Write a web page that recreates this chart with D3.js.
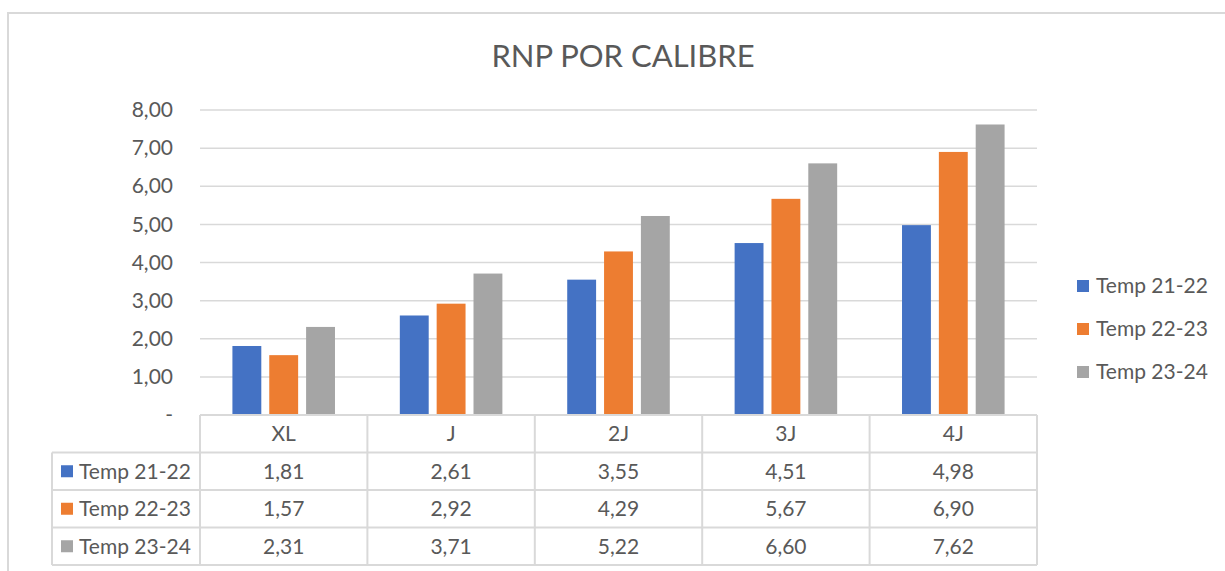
<!DOCTYPE html>
<html>
<head>
<meta charset="utf-8">
<script src="https://cdn.jsdelivr.net/npm/d3@7"></script>
<style>
  html, body { margin: 0; padding: 0; background: #fff; }
  svg { display: block; font-family: Lato, "Open Sans", sans-serif; }
</style>
</head>
<body>
<svg id="chart" width="1225" height="571"></svg>
<script>
const title = "RNP POR CALIBRE";
const categories = ["XL", "J", "2J", "3J", "4J"];
const seriesNames = ["Temp 21-22", "Temp 22-23", "Temp 23-24"];
const temp2122 = [1.81, 2.61, 3.55, 4.51, 4.98];
const temp2223 = [1.57, 2.92, 4.29, 5.67, 6.90];
const temp2324 = [2.31, 3.71, 5.22, 6.60, 7.62];
const yTicks = [0, 1, 2, 3, 4, 5, 6, 7, 8];
const colors = ["#4472C4", "#ED7D31", "#A5A5A5"];

const seriesValues = [temp2122, temp2223, temp2324];
const series = seriesNames.map((name, i) => ({ name, values: seriesValues[i], color: colors[i] }));

const svg = d3.select("#chart");
const textColor = "#595959";
const lineColor = "#d9d9d9";
const fmt = v => v.toFixed(2).replace(".", ",");

// outer frame
svg.append("rect").attr("x", 8).attr("y", 13).attr("width", 1240).attr("height", 620)
  .attr("fill", "#fff").attr("stroke", lineColor).attr("stroke-width", 2);

// title
svg.append("text").attr("x", 623).attr("y", 67).attr("text-anchor", "middle")
  .attr("font-size", 31).attr("fill", textColor).text(title);

const plotLeft = 200, plotRight = 1037, plotTop = 110, plotBottom = 415;
const x0 = d3.scaleBand().domain(categories).range([plotLeft, plotRight]).padding(0);
const x1 = d3.scaleBand().domain(seriesNames).range([0, x0.bandwidth()])
  .paddingInner(0.216).paddingOuter(0.88);
const y = d3.scaleLinear().domain([0, 8]).range([plotBottom, plotTop]);

// gridlines
svg.append("g").selectAll("line").data(yTicks.filter(t => t > 0)).join("line")
  .attr("x1", plotLeft).attr("x2", plotRight)
  .attr("y1", d => y(d)).attr("y2", d => y(d))
  .attr("stroke", lineColor).attr("stroke-width", 1.5);

// y-axis labels
const yAxis = d3.axisLeft(y).tickValues(yTicks).tickSize(0).tickPadding(0)
  .tickFormat(d => d === 0 ? "-" : fmt(d));
const yg = svg.append("g").attr("transform", `translate(173,0)`).call(yAxis);
yg.select(".domain").remove();
yg.selectAll("text").attr("font-size", 21).attr("fill", textColor)
  .attr("font-family", "Lato, 'Open Sans', sans-serif");

// bars
const groups = svg.append("g").selectAll("g").data(categories).join("g")
  .attr("transform", d => `translate(${x0(d)},0)`);
groups.selectAll("rect").data((c, ci) => series.map(s => ({ s, v: s.values[ci] }))).join("rect")
  .attr("x", d => x1(d.s.name)).attr("width", x1.bandwidth())
  .attr("y", d => y(d.v)).attr("height", d => y(0) - y(d.v))
  .attr("fill", d => d.s.color);

// data table
const rowH = 37.5;
const tableLeft = 52;
const rowTops = [plotBottom, plotBottom + rowH, plotBottom + 2 * rowH, plotBottom + 3 * rowH];
const tableBottom = plotBottom + 4 * rowH;
const tg = svg.append("g");
// horizontal lines
tg.append("line").attr("x1", plotLeft).attr("x2", plotRight).attr("y1", plotBottom).attr("y2", plotBottom)
  .attr("stroke", lineColor).attr("stroke-width", 2);
[1, 2, 3, 4].forEach(i => {
  const yy = plotBottom + i * rowH;
  tg.append("line").attr("x1", tableLeft).attr("x2", plotRight).attr("y1", yy).attr("y2", yy)
    .attr("stroke", lineColor).attr("stroke-width", 2);
});
// vertical lines
tg.append("line").attr("x1", tableLeft).attr("x2", tableLeft).attr("y1", plotBottom + rowH).attr("y2", tableBottom)
  .attr("stroke", lineColor).attr("stroke-width", 2);
categories.forEach(c => {
  tg.append("line").attr("x1", x0(c)).attr("x2", x0(c)).attr("y1", plotBottom).attr("y2", tableBottom)
    .attr("stroke", lineColor).attr("stroke-width", 2);
});
tg.append("line").attr("x1", plotRight).attr("x2", plotRight).attr("y1", plotBottom).attr("y2", tableBottom)
  .attr("stroke", lineColor).attr("stroke-width", 2);

// category labels
tg.selectAll("text.cat").data(categories).join("text").attr("class", "cat")
  .attr("x", d => x0(d) + x0.bandwidth() / 2).attr("y", plotBottom + rowH / 2)
  .attr("dy", "0.35em").attr("text-anchor", "middle")
  .attr("font-size", 21).attr("fill", textColor).text(d => d);

// rows
series.forEach((s, si) => {
  const top = plotBottom + (si + 1) * rowH;
  const cy = top + rowH / 2;
  tg.append("rect").attr("x", 61).attr("y", cy - 6).attr("width", 12).attr("height", 12).attr("fill", s.color);
  tg.append("text").attr("x", 79).attr("y", cy).attr("dy", "0.35em")
    .attr("font-size", 21).attr("fill", textColor).text(s.name);
  tg.selectAll(null).data(categories).join("text")
    .attr("x", d => x0(d) + x0.bandwidth() / 2).attr("y", cy).attr("dy", "0.35em")
    .attr("text-anchor", "middle").attr("font-size", 21).attr("fill", textColor)
    .text((d, i) => fmt(s.values[i]));
});

// legend
const legendY = d3.scalePoint().domain(seriesNames).range([286, 372]);
const lg = svg.append("g").selectAll("g").data(series).join("g")
  .attr("transform", d => `translate(1077,${legendY(d.name)})`);
lg.append("rect").attr("x", 0).attr("y", -6).attr("width", 12).attr("height", 12).attr("fill", d => d.color);
lg.append("text").attr("x", 19).attr("y", 0).attr("dy", "0.35em")
  .attr("font-size", 21).attr("fill", textColor).text(d => d.name);
</script>
</body>
</html>
